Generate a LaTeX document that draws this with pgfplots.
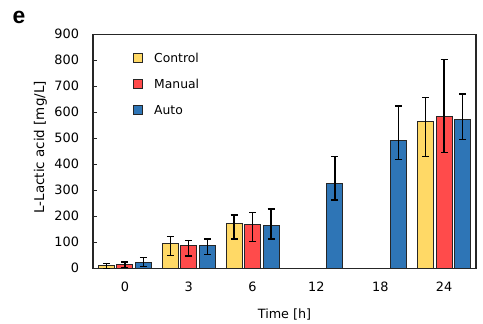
\documentclass[border=0pt]{standalone}
\usepackage{pgfplots}
\pgfplotsset{compat=1.18}
\usepackage{pgfplotstable}
\usepackage{fontspec}
\setmainfont{DejaVu Sans}
\newfontfamily\headfont{Liberation Sans}
\definecolor{cyel}{HTML}{FFD966}
\definecolor{cred}{HTML}{FF4B4B}
\definecolor{cblu}{HTML}{2E75B6}
\definecolor{edge}{HTML}{262626}

\pgfplotstableread{
x y ep em
0 11 8 11
1 95 28 45
2 172 33 59
5 566 92 135
}\control
\pgfplotstableread{
x y ep em
0 16 8 12
1 87 19 39
2 167 48 65
5 583 220 138
}\manual
\pgfplotstableread{
x y ep em
0 23 18 17
1 87 25 33
2 164 64 52
3 326 105 64
4 493 132 75
5 573 97 78
}\auto

\begin{document}
\begin{tikzpicture}[x=1bp,y=1bp]
\useasboundingbox (0,0) rectangle (483,323);
\node[anchor=base west, inner sep=0pt, font=\headfont\bfseries\fontsize{23}{23}\selectfont] at (12.5,300) {e};
\begin{axis}[
  at={(93bp,54.7bp)}, anchor=south west,
  scale only axis, width=383bp, height=234bp,
  font=\fontsize{12.4}{14}\selectfont,
  ymin=0, ymax=900, ytick={0,100,...,900},
  xmin=-0.5, xmax=5.5, xtick={0,1,2,3,4,5},
  xticklabels={0,3,6,12,18,24},
  ybar=2.5bp, bar width=16bp,
  axis line style={line width=1.2bp, draw=edge},
  ytick pos=left, tick align=inside, major tick length=3.5bp,
  ytick style={line width=1bp, draw=edge},
  xtick style={draw=none},
  tick label style={font=\fontsize{12.9}{14}\selectfont},
  yticklabel style={anchor=east, inner sep=0pt, xshift=-13.8bp},
  xticklabel style={anchor=base, inner sep=0pt, yshift=-23bp},
  /pgf/number format/assume math mode=true,
  ylabel={L-Lactic acid [mg/L]},
  ylabel style={at={(rel axis cs:0,0.5)}, anchor=base, yshift=49bp, xshift=4bp, font=\fontsize{13.5}{14}\selectfont},
  xlabel={Time [h]},
  xlabel style={at={(rel axis cs:0.5,0)}, anchor=base, yshift=-49.7bp, font=\fontsize{12.8}{14}\selectfont},
  legend image code/.code={\draw[#1, line width=1bp, draw=edge] (0bp,0bp) rectangle (9bp,9bp);},
  legend style={at={(0.1044,0.922)}, anchor=north west, draw=none, fill=none,
    inner sep=0pt, row sep=16.2bp,
    nodes={inner sep=0pt, text height=9bp, text depth=0bp, anchor=base west},
    /tikz/every odd column/.append style={column sep=11bp}},
  legend cell align=left,
  error bars/y dir=both, error bars/y explicit,
  error bars/error bar style={line width=1.4bp, draw=black},
  error bars/error mark options={rotate=90, mark size=3.5bp, line width=1.4bp, draw=black},
]
\addplot[fill=cyel, draw=edge, line width=1bp] table[x=x, y=y, y error plus=ep, y error minus=em]{\control};
\addlegendentry{Control}
\addplot[fill=cred, draw=edge, line width=1bp] table[x=x, y=y, y error plus=ep, y error minus=em]{\manual};
\addlegendentry{Manual}
\addplot[fill=cblu, draw=edge, line width=1bp] table[x=x, y=y, y error plus=ep, y error minus=em]{\auto};
\addlegendentry{Auto}
\end{axis}
\end{tikzpicture}
\end{document}
